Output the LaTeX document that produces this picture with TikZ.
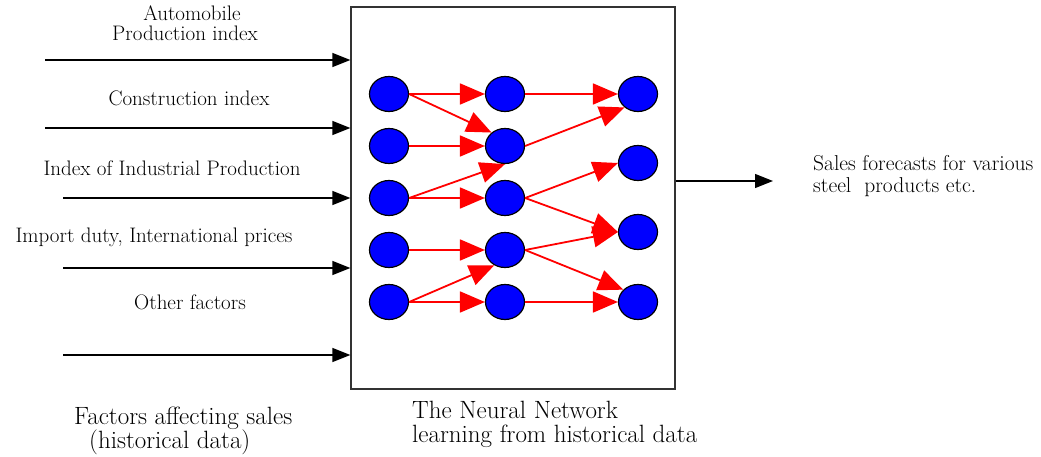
\documentclass[tikz,border=0pt]{standalone}
\usetikzlibrary{arrows.meta,shapes.geometric}
\begin{document}
\begin{tikzpicture}[x=1pt,y=-1pt,
  neuron/.style={ellipse,draw=black,line width=1.2pt,fill=blue,minimum width=39pt,minimum height=35pt,inner sep=0pt},
  inarrow/.style={line width=1.3pt,-{Triangle[length=18pt,width=14pt]}},
  redarrow/.style={red,line width=1.8pt,-{Triangle[length=25pt,width=21pt]}},
  lbl/.style={font=\fontsize{21}{24}\selectfont,inner sep=0pt},
  big/.style={font=\fontsize{25}{24}\selectfont,inner sep=0pt,align=left},
  netbox/.style={draw=black!80,line width=1.3pt}
]
\useasboundingbox (0,0) rectangle (1041,457);
% network box
\node[netbox,minimum width=324pt,minimum height=382pt,inner sep=0pt] (box) at (513,198) {};
% neurons
\foreach \r/\y in {1/94,2/146,3/198,4/250,5/302}{
  \node[neuron] (a\r) at (389,\y) {};
  \node[neuron] (b\r) at (505,\y) {};
}
\node[neuron] (c1) at (638,94) {};
\node[neuron] (c2) at (638,163) {};
\node[neuron] (c3) at (638,232) {};
\node[neuron] (c4) at (638,302) {};
% red connections
\draw[redarrow] (a1.east) -- (b1.west);
\draw[redarrow] (a1.east) -- (b2.135);
\draw[redarrow] (a2.east) -- (b2.west);
\draw[redarrow] (a3.east) -- (b2.south);
\draw[redarrow] (a3.east) -- (b3.west);
\draw[redarrow] (a4.east) -- (b4.west);
\draw[redarrow] (a5.east) -- (b4.235);
\draw[redarrow] (a5.east) -- (b5.west);
\draw[redarrow] (b1.east) -- (c1.west);
\draw[redarrow] (b2.east) -- (c1.225);
\draw[redarrow] (b3.east) -- (c2.west);
\draw[redarrow] (b3.east) -- (c3.west);
\draw[redarrow] (b4.east) -- (c3.west);
\draw[redarrow] (b4.east) -- (c4.140);
\draw[redarrow] (b5.east) -- (c4.west);
% inputs
\coordinate (i1) at (45,60);
\coordinate (i2) at (45,128);
\coordinate (i3) at (63,198);
\coordinate (i4) at (63,268);
\coordinate (i5) at (63,355);
\foreach \i in {1,...,5}{
  \draw[inarrow] (i\i) -- (i\i -| box.west);
}
% output
\coordinate (o) at (773,181);
\draw[inarrow] (o -| box.east) -- (o);
% labels
\node[lbl] (t1) at (192,13) {Automobile};
\node[lbl] (t1b) at (185,33) {Production index};
\node[lbl] (t2) at (189,98) {Construction index};
\node[lbl] (t3) at (172,168) {Index of Industrial Production};
\node[lbl] (t4) at (154,237) {Import duty, International prices};
\node[lbl] (t5) at (190,302) {Other factors};
\node[lbl,align=left,anchor=west,font=\fontsize{21.5}{22}\selectfont] (out) at (813,176) {Sales forecasts for various\\steel\ \ products etc.};
\node[big,anchor=west] (f) at (74,431) {Factors affecting sales\\\hspace{0.6em}(historical data)};
\node[big,anchor=west] (nn) at (412,424) {The Neural Network\\learning from historical data};
\end{tikzpicture}
\end{document}
